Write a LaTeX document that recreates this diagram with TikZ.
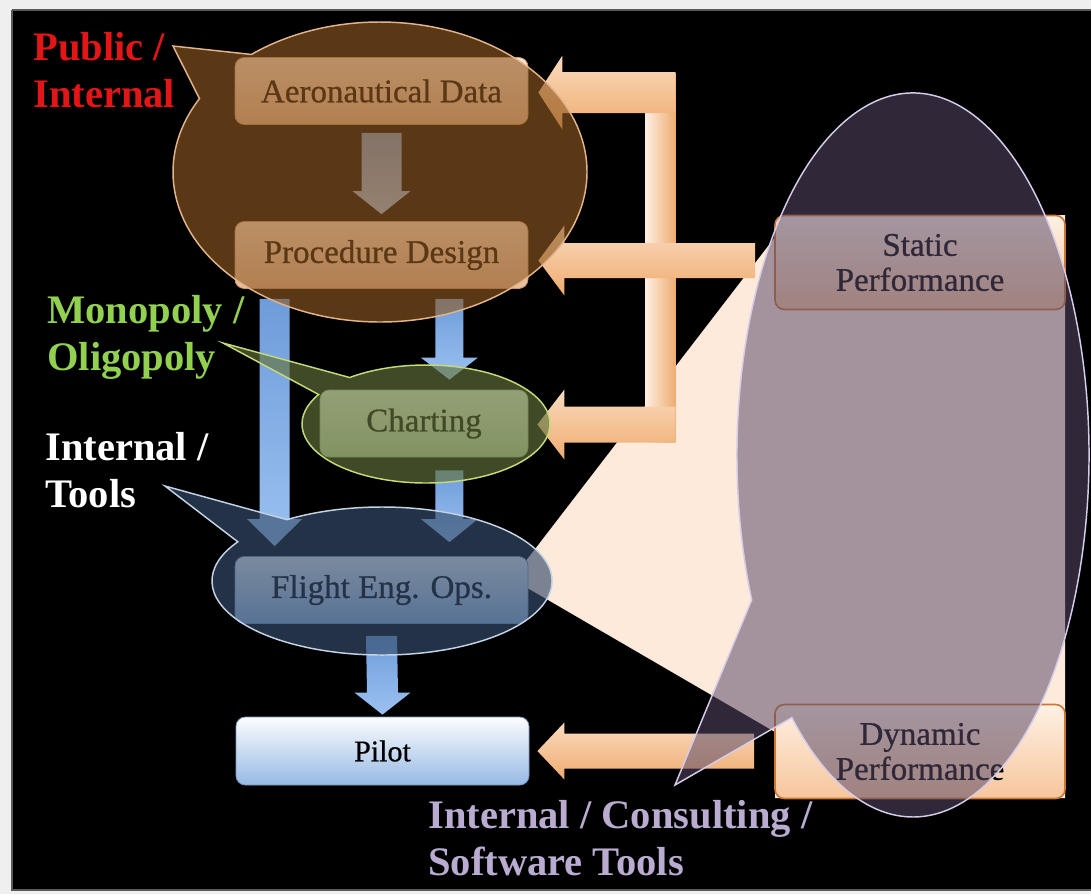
\documentclass[tikz,border=0pt]{standalone}
\usepackage{fontspec}
\setmainfont{Liberation Serif}
\newfontfamily\boxface[FakeBold=0.7]{Liberation Serif}
\usetikzlibrary{calc}

% colours
\definecolor{frameGray}{RGB}{239,239,239}
\definecolor{frameLine}{RGB}{90,90,90}
\definecolor{boxTop}{RGB}{252,253,255}
\definecolor{boxBot}{RGB}{150,185,228}
\definecolor{boxEdge}{RGB}{120,150,190}
\definecolor{tanTop}{RGB}{253,232,214}
\definecolor{tanBot}{RGB}{232,188,156}
\definecolor{tanEdge}{RGB}{200,150,110}
\definecolor{sageTop}{RGB}{238,244,228}
\definecolor{sageBot}{RGB}{186,208,168}
\definecolor{sageEdge}{RGB}{150,175,120}
\definecolor{perfTop}{RGB}{254,240,228}
\definecolor{perfBot}{RGB}{246,198,156}
\definecolor{perfEdge}{RGB}{205,120,50}
\definecolor{pchFill}{RGB}{253,234,218}
\definecolor{pchMid}{RGB}{254,238,225}
\definecolor{pchTop}{RGB}{251,218,190}
\definecolor{pchBot}{RGB}{238,172,112}
\definecolor{blueTop}{RGB}{110,156,218}
\definecolor{blueBot}{RGB}{155,193,240}
\definecolor{brownC}{RGB}{146,90,34}
\definecolor{brownEdge}{RGB}{226,180,138}
\definecolor{greenC}{RGB}{100,115,60}
\definecolor{greenEdge}{RGB}{196,218,120}
\definecolor{navyC}{RGB}{54,77,108}
\definecolor{navyEdge}{RGB}{196,210,230}
\definecolor{purpC}{RGB}{89,74,104}
\definecolor{purpEdge}{RGB}{214,204,234}
\definecolor{redL}{RGB}{226,22,22}
\definecolor{greenL}{RGB}{146,208,80}
\definecolor{lavL}{RGB}{186,172,208}

\newcommand\boxfont{\boxface\fontsize{24.75pt}{26.25pt}\selectfont}
\newcommand\pilotfont{\boxface\fontsize{22.5pt}{24pt}\selectfont}
\newcommand\lblfont{\fontsize{30.4pt}{35.25pt}\selectfont\bfseries}

% block arrow pointing down: style, start, tip, half shaft, half head, head length
\newcommand\fatdown[6]{%
  \path[#1] ($(#2)+(-#4,0)$) -- ($(#3)+(-#4,-#6)$) -- ($(#3)+(-#5,-#6)$) -- (#3)
    -- ($(#3)+(#5,-#6)$) -- ($(#3)+(#4,-#6)$) -- ($(#2)+(#4,0)$) -- cycle;}
% block arrow pointing left: style, start, tip, half shaft, half head, head length
\newcommand\fatleft[6]{%
  \path[#1] ($(#2)+(0,-#4)$) -- ($(#3)+(#6,-#4)$) -- ($(#3)+(#6,-#5)$) -- (#3)
    -- ($(#3)+(#6,#5)$) -- ($(#3)+(#6,#4)$) -- ($(#2)+(0,#4)$) -- cycle;}
% elliptic callout: style, cx, cy, rx, ry, start angle, end angle, tip
\newcommand\ellcallout[8]{%
  \path[#1] (#8) -- ($(#2,#3)+(#6:#4 and #5)$)
    arc[start angle=#6, end angle=#7, x radius=#4, y radius=#5] -- cycle;}

\begin{document}
\begin{tikzpicture}[x=0.75pt, y=-0.75pt,
  lbl/.style={anchor=base west, align=left, inner sep=0pt, font=\lblfont},
  box/.style={rounded corners=7pt, inner sep=0pt, align=center, font=\boxfont,
    text=black, minimum width=293*0.75pt, minimum height=67*0.75pt},
  bluebox/.style={box, top color=boxTop, bottom color=boxBot, draw=boxEdge, line width=0.6pt},
  tanbox/.style={box, top color=tanTop, bottom color=tanBot, draw=tanEdge, line width=0.6pt},
  sagebox/.style={box, top color=sageTop, bottom color=sageBot, draw=sageEdge, line width=0.6pt},
  perfbox/.style={box, minimum width=290*0.75pt, minimum height=94*0.75pt,
    top color=perfTop, bottom color=perfBot, draw=perfEdge, line width=1.2pt},
  bluearrow/.style={top color=blueTop, bottom color=blueBot},
  peachh/.style={top color=pchTop, middle color=pchMid, bottom color=pchBot},
  peachv/.style={left color=pchMid, middle color=pchMid, right color=pchBot},
  bubble/.style={line width=1.1pt}]

\useasboundingbox (0,0) rectangle (1091,894);
\fill[frameGray] (0,0) rectangle (1091,894);
\fill[black] (12,10) rectangle (1091,890);
\draw[frameLine, line width=0.8pt] (12,10) -- (12,890) -- (1091,890);
\draw[frameLine, line width=0.8pt] (12,10) -- (1091,10);

% projection band from Flight Eng. Ops. to the performance panel
\fill[pchFill] (512,579) -- (792,215) -- (1065,215) -- (1065,798) -- (775,798) -- (775,732) -- cycle;

% performance boxes
\node[perfbox] (static) at (920,262.5) {Static\\Performance};
\node[perfbox] (dyn) at (920,751.5) {Dynamic\\Performance};

% process boxes
\node[tanbox] (aero) at (381.5,91) {Aeronautical Data};
\node[tanbox] (proc) at (381.5,255) {Procedure Design};
\node[sagebox, minimum width=208*0.75pt] (chart) at (424,423.5) {Charting};
\node[bluebox] (flight) at (381.5,590) {Flight Eng. Ops.};
\node[bluebox, font=\pilotfont, minimum height=68*0.75pt] (pilot) at (382.5,751) {Pilot};

% feedback arrows from the performance boxes
\coordinate (t1) at ($(aero.east)+(10,1.5)$);
\coordinate (s1) at ($(t1)+(137,0)$);
\coordinate (t2) at ($(proc.east)+(10,5.5)$);
\coordinate (s2) at ($(static.west)+(-19,-2)$);
\coordinate (t3) at ($(chart.east)+(9,1)$);
\coordinate (s3) at ($(t3)+(138,0)$);
\coordinate (t4) at ($(pilot.east)+(8,0)$);
\coordinate (s4) at ($(dyn.west)+(-20,-0.5)$);
\path[peachv] ($(s1)+(-30,-20.5)$) rectangle ($(s3)+(0,18)$);
\fatleft{peachh}{s2}{t2}{17.5}{35}{26}
\fatleft{peachh}{s1}{t1}{20.5}{37}{24}
\fatleft{peachh}{s3}{t3}{18}{35}{27}
\fatleft{peachh}{s4}{t4}{17.5}{28.5}{27}

% flow arrows between the process boxes
\coordinate (a1s) at ($(aero.south)+(0,8)$);
\coordinate (a1e) at ($(proc.north)+(0,-7)$);
\coordinate (a2s) at ($(proc.south west)+(40,10)$);
\coordinate (a2e) at ($(flight.north west)+(40,-10)$);
\coordinate (a3s) at ($(proc.south east)+(-79,10)$);
\coordinate (a3e) at ($(chart.north east)+(-79,-10)$);
\coordinate (a4s) at ($(chart.south east)+(-79,13)$);
\coordinate (a4e) at ($(flight.north east)+(-79,-14)$);
\coordinate (a5s) at ($(flight.south)+(0,12)$);
\coordinate (a5e) at ($(pilot.north)+(0,-2)$);
\fatdown{bluearrow}{a1s}{a1e}{20}{29}{23}
\fatdown{bluearrow}{a2s}{a2e}{15}{27.5}{27}
\fatdown{bluearrow}{a3s}{a3e}{14}{28.5}{22}
\fatdown{bluearrow}{a4s}{a4e}{14}{28.5}{23}
\fatdown{bluearrow}{a5s}{a5e}{15.5}{28}{22}

% callout bubbles
\coordinate (pubTip) at (173,46);
\coordinate (monoTip) at (223,343);
\coordinate (toolTip) at (165,486);
\coordinate (consTip) at (675,785);
\ellcallout{bubble, fill=brownC, fill opacity=0.62, draw=brownEdge}{380}{172}{207}{150}{231.6}{569.3}{pubTip}
\ellcallout{bubble, fill=greenC, fill opacity=0.65, draw=greenEdge}{426}{424}{124}{59}{232}{570}{monoTip}
\ellcallout{bubble, fill=navyC, fill opacity=0.65, draw=navyEdge}{382}{581}{170}{74}{236}{572}{toolTip}
\ellcallout{bubble, fill=purpC, fill opacity=0.54, draw=purpEdge}{913}{455}{176}{362}{156.4}{493.5}{consTip}

% labels (anchored at the baseline of their last line)
\node[lbl, text=redL] (pubLbl) at (33,107) {Public /\\Internal};
\node[lbl, text=greenL] (monoLbl) at (47,370) {Monopoly /\\Oligopoly};
\node[lbl, text=white] (toolLbl) at (45,507) {Internal /\\Tools};
\node[lbl, text=lavL] (consLbl) at (428,875) {Internal / Consulting /\\Software Tools};
\end{tikzpicture}
\end{document}
